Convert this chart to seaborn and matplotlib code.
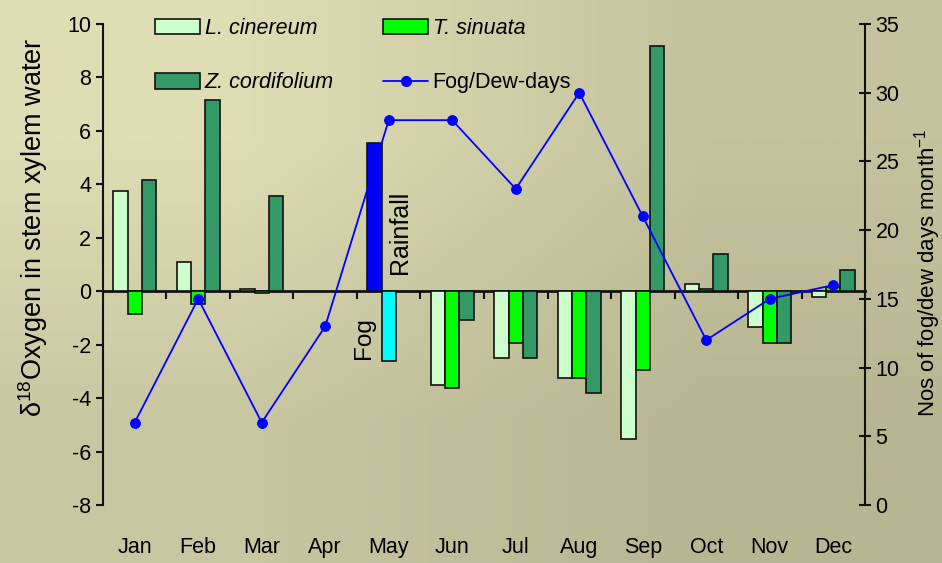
import numpy as np
import pandas as pd
import seaborn as sns
import matplotlib.pyplot as plt
from matplotlib.patches import Patch
from matplotlib.lines import Line2D

# monthly values
months = ['Jan', 'Feb', 'Mar', 'Apr', 'May', 'Jun', 'Jul', 'Aug', 'Sep', 'Oct', 'Nov', 'Dec']
l_cinereum = [3.75, 1.08, 0.08, np.nan, np.nan, -3.50, -2.50, -3.24, -5.54, 0.26, -1.35, -0.20]
t_sinuata = [-0.87, -0.47, -0.06, np.nan, np.nan, -3.64, -1.94, -3.24, -2.95, 0.10, -1.95, 0.14]
z_cordifolium = [4.18, 7.15, 3.57, np.nan, np.nan, -1.07, -2.50, -3.79, 9.18, 1.41, -1.95, 0.81]
rainfall_may = 5.55
fog_may = -2.62
fog_dew_days = [6, 15, 6, 13, 28, 28, 23, 30, 21, 12, 15, 16]

species = ['L. cinereum', 'T. sinuata', 'Z. cordifolium']
colors = {'L. cinereum': '#ccffcc', 'T. sinuata': '#00ff00', 'Z. cordifolium': '#339966'}

# May holds the rainfall and fog isotope values in the first two slots
l_vals = list(l_cinereum)
t_vals = list(t_sinuata)
l_vals[4] = rainfall_may
t_vals[4] = fog_may

df = pd.DataFrame({
    'month': months * 3,
    'species': np.repeat(species, len(months)),
    'value': l_vals + t_vals + list(z_cordifolium),
}).dropna()

df_line = pd.DataFrame({'pos': np.arange(len(months)), 'days': fog_dew_days})

sns.set_style('ticks')
plt.rcParams['font.family'] = ['Liberation Sans', 'DejaVu Sans']
plt.rcParams['mathtext.fontset'] = 'custom'
plt.rcParams['mathtext.rm'] = 'Liberation Sans'
plt.rcParams['axes.unicode_minus'] = False
for k in ['text.color', 'axes.labelcolor', 'xtick.color', 'ytick.color']:
    plt.rcParams[k] = 'black'

fig = plt.figure(figsize=(9.42, 5.63), dpi=100)

# background gradient
bg = fig.add_axes([0, 0, 1, 1], zorder=-10)
corners = np.array([[[222, 221, 180], [197, 195, 158]],
                    [[200, 199, 162], [184, 182, 146]]]) / 255.0
bg.imshow(corners, extent=[0, 1, 0, 1], aspect='auto', interpolation='bilinear')
bg.axis('off')

ax = fig.add_axes([0.1093, 0.103, 0.809, 0.8544])
ax.patch.set_visible(False)

sns.barplot(data=df, x='month', y='value', hue='species', order=months,
            hue_order=species, palette=colors, saturation=1, width=0.675,
            errorbar=None, edgecolor='#111111', linewidth=1.2, legend=False, ax=ax)

# recolour the May bars: rainfall (blue) and fog (cyan)
may_colors = ['#0000ff', '#00ffff']
for cont, col in zip(ax.containers[:2], may_colors):
    for bar in cont:
        xc = bar.get_x() + bar.get_width() / 2
        if abs(xc - 4) < 0.4:
            bar.set_facecolor(col)

ax.set_ylim(-8, 10)
ax.set_yticks(range(-8, 11, 2))
ax.set_xlabel('')
ax.set_ylabel('δ$^{18}$Oxygen in stem xylem water', fontsize=19.5)
ax.yaxis.set_label_coords(-0.069, 0.577)
for s in ['top', 'right', 'bottom']:
    ax.spines[s].set_visible(False)
ax.spines['left'].set_linewidth(1.5)
ax.spines['left'].set_color('#111111')
ax.tick_params(axis='y', direction='out', length=5, width=1.5, labelsize=15.5, pad=3.5, color='#111111')
ax.tick_params(axis='x', length=0, labelsize=15.5, pad=23)

# zero line with ticks between months
sec = ax.secondary_xaxis(8 / 18)
sec.set_xticks(np.arange(0.5, 11, 1))
sec.tick_params(axis='x', direction='out', length=6, width=1.5, labelbottom=False, color='#111111')
sec.spines['bottom'].set_linewidth(2)
sec.spines['bottom'].set_color('#111111')

ax.text(4.17, 2.2, 'Rainfall', rotation=90, ha='center', va='center', fontsize=18)
ax.text(3.61, -1.74, 'Fog', rotation=90, ha='center', va='center', fontsize=17.5)

# fog/dew days on the right axis
ax2 = ax.twinx()
sns.lineplot(data=df_line, x='pos', y='days', ax=ax2, color='#0000ff', marker='o',
             markersize=7, markeredgecolor='#0000ff', linewidth=1.3)
ax2.set_ylim(0, 35)
ax2.set_yticks(range(0, 36, 5))
ax2.set_ylabel('Nos of fog/dew days month$^{-1}$', fontsize=16)
ax2.yaxis.set_label_coords(1.062, 0.484)
for s in ['top', 'left', 'bottom']:
    ax2.spines[s].set_visible(False)
ax2.spines['right'].set_linewidth(1.5)
ax2.spines['right'].set_color('#111111')
ax2.tick_params(axis='y', direction='inout', length=9, width=1.5, labelsize=15.5, pad=3, color='#111111')
ax.set_xlim(-0.5, 11.5)

handles = [Patch(facecolor=colors['L. cinereum'], edgecolor='#111111', linewidth=1.2),
           Patch(facecolor=colors['Z. cordifolium'], edgecolor='#111111', linewidth=1.2),
           Patch(facecolor=colors['T. sinuata'], edgecolor='#111111', linewidth=1.2),
           Line2D([], [], color='#0000ff', marker='o', markersize=7, linewidth=1.3)]
labels = ['L. cinereum', 'Z. cordifolium', 'T. sinuata', 'Fog/Dew-days']
leg = ax.legend(handles, labels, ncol=2, loc='upper left', frameon=False,
                bbox_to_anchor=(155 / 942, 1 - 18 / 563), bbox_transform=fig.transFigure,
                fontsize=15.5, handlelength=2.1, handleheight=0.75, handletextpad=0.2,
                labelspacing=1.55, columnspacing=2.3, borderpad=0, borderaxespad=0)
for t in leg.get_texts()[:3]:
    t.set_fontstyle('italic')

fig.savefig('out.png', dpi=100)
